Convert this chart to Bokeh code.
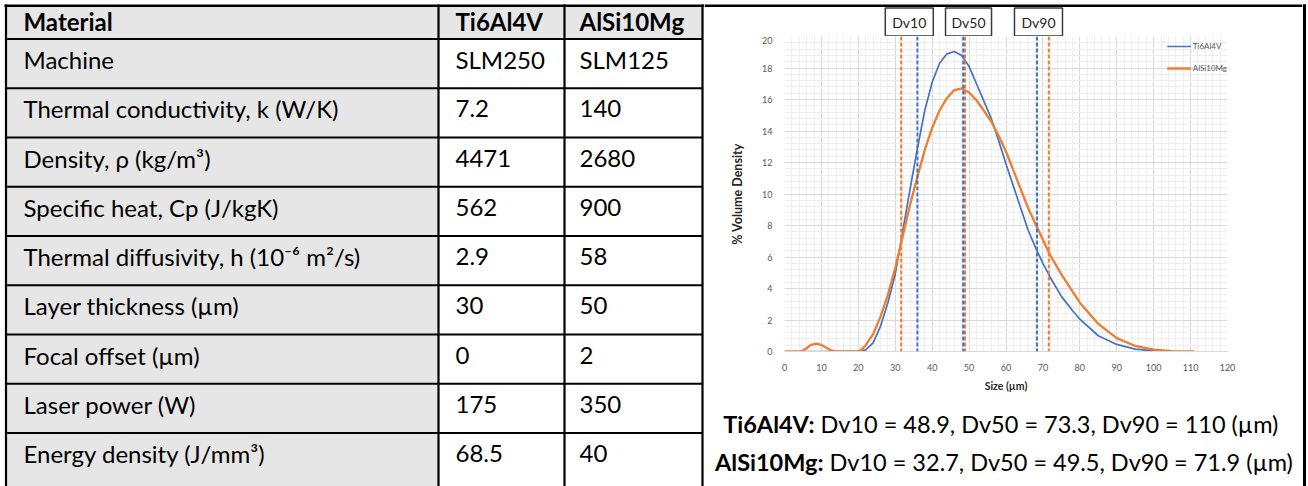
from bokeh.plotting import figure
from bokeh.layouts import row, column
from bokeh.models import Range1d, Span, Legend, LegendItem, SingleIntervalTicker
from bokeh.core.properties import value
from bokeh.embed import file_html
from bokeh.resources import INLINE

FONT = "Lato"

# ---------------- data ----------------
header_labels = ["Material", "Ti6Al4V", "AlSi10Mg"]
property_names = [
    "Machine",
    "Thermal conductivity, k (W/K)",
    "Density, \u03c1 (kg/m\u00b3)",
    "Specific heat, Cp (J/kgK)",
    "Thermal diffusivity, h (10\u207b\u2076 m\u00b2/s)",
    "Layer thickness (\u00b5m)",
    "Focal offset (\u00b5m)",
    "Laser power (W)",
    "Energy density (J/mm\u00b3)",
]
ti6al4v_values = ["SLM250", "7.2", "4471", "562", "2.9", "30", "0", "175", "68.5"]
alsi10mg_values = ["SLM125", "140", "2680", "900", "58", "50", "2", "350", "40"]

ti_size = [4.5, 20, 21, 22, 24, 26, 28, 30, 32, 34, 36, 38, 40, 42, 44, 46, 48, 50, 52, 54,
           56, 58, 60, 62, 64, 66, 68, 70, 72, 75, 78, 80, 85, 90, 95, 100, 103]
ti_vol = [0, 0, 0.03, 0.1, 0.55, 1.6, 3.1, 4.9, 7.6, 10.3, 12.9, 15.3, 17.1, 18.3, 18.9, 19.05, 18.8, 18.1, 17.0, 15.9,
          14.8, 13.4, 11.9, 10.5, 9.1, 7.7, 6.6, 5.6, 4.7, 3.5, 2.6, 2.05, 1.0, 0.45, 0.15, 0.04, 0]

al_size = [0, 4.5, 6, 7, 8.5, 10, 11, 12.5, 14, 20, 21, 22, 24, 26, 28, 30, 32, 34, 36, 38,
           40, 42, 44, 46, 48, 50, 52, 54, 56, 58, 60, 62, 64, 66, 68, 70, 72, 75, 80, 85,
           90, 95, 100, 105, 111]
al_vol = [0, 0, 0.2, 0.4, 0.5, 0.42, 0.28, 0.08, 0, 0, 0.15, 0.4, 1.1, 2.2, 3.6, 5.3, 7.3, 9.3, 11.1, 12.8,
          14.2, 15.3, 16.1, 16.6, 16.7, 16.45, 15.95, 15.3, 14.6, 13.7, 12.7, 11.5, 10.3, 9.1, 8.1, 7.1, 6.1, 4.9, 3.1, 1.75,
          0.85, 0.35, 0.12, 0.03, 0]

dv_names = ["Dv10", "Dv50", "Dv90"]
ti_dv_lines = [36.0, 48.4, 68.4]
al_dv_lines = [31.6, 48.9, 71.6]

caption_bold = ["Ti6Al4V:", "AlSi10Mg:"]
caption_rest = ["Dv10 = 48.9, Dv50 = 73.3, Dv90 = 110 (\u00b5m)",
                "Dv10 = 32.7, Dv50 = 49.5, Dv90 = 71.9 (\u00b5m)"]

# ---------------- layout constants ----------------
BLUE = "#4472c4"
ORANGE = "#ed7d31"
GRAYFILL = "#e7e6e6"
W_TOTAL, H_TOTAL = 1308, 486
TABLE_W = 704
FRAME_W, FRAME_H = 443, 315
LEFT_M, RIGHT_M = 80, 75
PANEL_W = LEFT_M + FRAME_W + RIGHT_M
EDGE_W = W_TOTAL - TABLE_W - PANEL_W
TOP_H = 36
BOTTOM_M = 48
CAP_H = H_TOTAL - TOP_H - FRAME_H - BOTTOM_M
X_START, X_END = 0, 120
Y_START, Y_END = 0, 20


def blank(width, height, xr, yr):
    f = figure(width=width, height=height, x_range=xr, y_range=yr,
               output_backend="svg", toolbar_location=None, min_border=0,
               x_axis_location=None, y_axis_location=None, frame_align=False)
    f.grid.visible = False
    f.outline_line_color = None
    f.background_fill_color = "white"
    f.border_fill_color = "white"
    return f


# ---------------- table ----------------
tab = blank(TABLE_W, H_TOTAL, Range1d(0, TABLE_W), Range1d(H_TOTAL, 0))
col_lines = [5.5, 438, 564, 702]
header_top, header_bot = 5, 38.5
row_pitch = 49.25
row_tops = [header_bot + i * row_pitch for i in range(len(property_names))]

tab.quad(left=col_lines[0], right=col_lines[1], top=header_top, bottom=H_TOTAL,
         fill_color=GRAYFILL, line_color=None)
tab.quad(left=col_lines[1], right=col_lines[3], top=header_top, bottom=header_bot,
         fill_color=GRAYFILL, line_color=None)
tab.segment(x0=col_lines, y0=[4] * 4, x1=col_lines, y1=[H_TOTAL] * 4, line_color="black", line_width=2.2)
tab.segment(x0=[4], y0=[5.2], x1=[TABLE_W], y1=[5.2], line_color="black", line_width=2.5)
tab.segment(x0=[col_lines[0]] * len(row_tops), y0=row_tops, x1=[col_lines[3]] * len(row_tops), y1=row_tops,
            line_color="black", line_width=2.2)

text_x = [23, 455, 579]
tab.text(x=text_x, y=[21] * 3, text=header_labels, text_font=value(FONT), text_font_style="bold",
         text_font_size="24px", text_baseline="middle", text_color="black")
ty = [t + 20.5 for t in row_tops]
for xs, labels in ((text_x[0], property_names), (text_x[1], ti6al4v_values), (text_x[2], alsi10mg_values)):
    tab.text(x=[xs] * len(ty), y=ty, text=labels, text_font=value(FONT),
             text_font_size="24px", text_baseline="middle", text_color="black")

# ---------------- chart ----------------
chart = figure(frame_width=FRAME_W, frame_height=FRAME_H,
               min_border_left=LEFT_M, min_border_right=RIGHT_M,
               min_border_top=0, min_border_bottom=BOTTOM_M,
               x_range=Range1d(X_START, X_END), y_range=Range1d(Y_START, Y_END),
               output_backend="svg", toolbar_location=None, frame_align=False)
chart.outline_line_color = None
chart.xaxis.ticker = SingleIntervalTicker(interval=10, num_minor_ticks=5)
chart.yaxis.ticker = SingleIntervalTicker(interval=2, num_minor_ticks=5)
for g in (chart.xgrid, chart.ygrid):
    g.grid_line_color = "#d9d9d9"
    g.grid_line_width = 1
    g.minor_grid_line_color = "#eeeeee"
    g.minor_grid_line_width = 1
for ax in (chart.xaxis, chart.yaxis):
    ax.major_tick_line_color = None
    ax.minor_tick_line_color = None
    ax.major_label_text_font = FONT
    ax.major_label_text_font_size = "9px"
    ax.major_label_text_color = "#595959"
    ax.axis_label_text_font = FONT
    ax.axis_label_text_font_style = "bold"
    ax.axis_label_text_color = "#262626"
chart.xaxis.axis_label_text_font_size = "10.5px"
chart.yaxis.axis_label_text_font_size = "12.5px"
chart.xaxis.axis_line_color = "#d9d9d9"
chart.yaxis.axis_line_color = None
chart.xaxis.axis_label = "Size (\u00b5m)"
chart.yaxis.axis_label = "% Volume Density"
chart.xaxis.major_label_standoff = 6
chart.xaxis.axis_label_standoff = 6
chart.yaxis.major_label_standoff = 6
chart.yaxis.axis_label_standoff = 14

r_ti = chart.line(ti_size, ti_vol, line_color=BLUE, line_width=1.7)
r_al = chart.line(al_size, al_vol, line_color=ORANGE, line_width=2.3)

for v in al_dv_lines:
    chart.add_layout(Span(location=v, dimension="height", line_color=ORANGE, line_dash="4 2", line_width=2))
for v in ti_dv_lines:
    chart.add_layout(Span(location=v, dimension="height", line_color=BLUE, line_dash="4 2", line_width=2))

legend = Legend(items=[LegendItem(label="Ti6Al4V", renderers=[r_ti]),
                       LegendItem(label="AlSi10Mg", renderers=[r_al])],
                location="top_right", margin=0, padding=2, spacing=2,
                glyph_width=24, glyph_height=20, label_height=20, label_standoff=2,
                label_text_font=FONT, label_text_font_size="8px", label_text_color="#595959",
                border_line_color=None, background_fill_alpha=0)
chart.add_layout(legend)

# ---------------- Dv boxes above the chart ----------------
span_x = (X_END - X_START) / FRAME_W
top = blank(PANEL_W, TOP_H,
            Range1d(X_START - LEFT_M * span_x, X_END + RIGHT_M * span_x),
            Range1d(TOP_H, 0))
top.add_layout(Span(location=5.2, dimension="width", line_color="black", line_width=2.5))
box_shift = [0.0, 1.2, -1.2]
box_x = [(a + b) / 2 + s for a, b, s in zip(ti_dv_lines, al_dv_lines, box_shift)]
top.rect(x=box_x, y=[21.5] * 3, width=[48, 46, 48], height=28, width_units="screen", height_units="screen",
         fill_color="white", line_color="#3a3a3a", line_width=1.5)
top.text(x=box_x, y=[21.5] * 3, text=dv_names, text_align="center", text_baseline="middle",
         text_font=value(FONT), text_font_size="14px", text_color="#262626")

# ---------------- caption ----------------
cap = blank(PANEL_W, CAP_H, Range1d(0, PANEL_W), Range1d(CAP_H, 0))
split_x = [110, 119]
cap_y = [24, 62]
cap.text(x=split_x, y=cap_y, text=caption_bold, text_align="right", text_baseline="middle",
         text_font=value(FONT), text_font_style="bold", text_font_size="23.5px", text_color="black")
cap.text(x=[s + 6 for s in split_x], y=cap_y, text=caption_rest, text_align="left", text_baseline="middle",
         text_font=value(FONT), text_font_size="23.5px", text_color="black")

# ---------------- right edge ----------------
edge = blank(EDGE_W, H_TOTAL, Range1d(0, EDGE_W), Range1d(H_TOTAL, 0))
edge.quad(left=[0], right=[3.5], top=[4], bottom=[6.5], fill_color="black", line_color=None)
edge.quad(left=[0.5], right=[3.5], top=[4], bottom=[H_TOTAL], fill_color="black", line_color=None)

layout = row(tab, column(top, chart, cap), edge)
open("out.html", "w").write(file_html(layout, INLINE))
